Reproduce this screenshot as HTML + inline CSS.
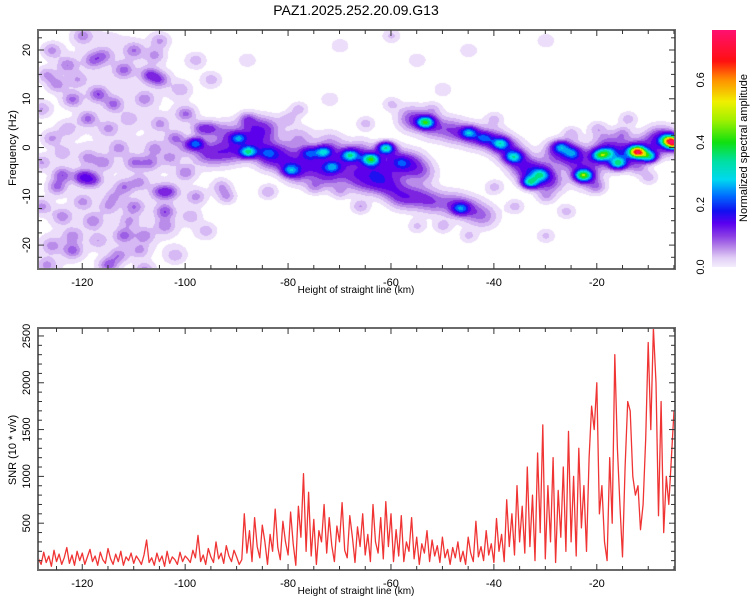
<!DOCTYPE html>
<html><head><meta charset="utf-8">
<style>
html,body{margin:0;padding:0;background:#fff;}
#wrap{position:relative;width:750px;height:600px;overflow:hidden;font-family:"Liberation Sans",sans-serif;}
svg{position:absolute;left:0;top:0;}
canvas{position:absolute;}
</style></head>
<body>
<div id="wrap">
<canvas id="hm" width="637" height="239" style="left:38px;top:30px;"></canvas>
<svg id="svg" width="750" height="600"></svg>
</div>
<script>
// ---------- data ----------
const xMinKm = -128.6, xMaxKm = -4.8;
const hzMin = -24.9, hzMax = 24.1;
const cbMax = 0.76;
const snrMax = 2585;
const xTickLabels = [-120,-100,-80,-60,-40,-20];
const hzTickLabels = [20,10,0,-10,-20];
const snrTickLabels = [500,1000,1500,2000,2500];
const cbTickLabels = [0.0,0.2,0.4,0.6];

// bright spots: km, Hz, amplitude
const spotKm  = [-98.1,-89.7,-87.8,-73.2,-79.6,-68,-64,-71.5,-61.1,-53.4,-45,-38.8,-36.3,-33,-27.1,-22.7,-19.4,-16,-12.2,-10,-6.1,-5,-46.6,-84,-76,-58,-42,-31,-25,-18];
const spotHz  = [0.9,2.0,-0.8,-0.8,-4.6,-1.5,-2.3,-3.9,0,5.3,3.1,0.9,-1.8,-7,0.2,-5.6,-1.5,-3.1,-0.8,-1.7,1.6,1,-12.4,-1,-1,-3,2,-5.5,-1,-1];
const spotAmp = [0.2,0.18,0.28,0.24,0.17,0.25,0.33,0.17,0.3,0.34,0.2,0.22,0.22,0.27,0.18,0.38,0.27,0.27,0.6,0.3,0.33,0.48,0.16,0.1,0.12,0.08,0.14,0.18,0.14,0.18];

// ridge base (purple band): km, Hz, amplitude
const baseKm  = [-96,-93,-92,-90,-87,-86,-84,-82,-80,-78,-76,-74,-72,-70,-68,-66,-64,-62,-60,-58,-56,-54,
 -56,-52,-48,-44,-40,-37,-35,-33,-31,-29,-28,-25,-24,-22,-20,-18,-16,-14,-11,-8,-6,
 -60,-58,-55,-52,-48,-45,-42,-63,-84,-78,-72,-66];
const baseHz  = [-1,-1,3,-0.5,4,1,-2,-1,-3,-5,-2,-4,-6,-2,-5,-1,-4,-6,-2,-4,-3,-5,
 6,4.5,3.5,2.5,1.5,-0.5,-3,-5,-5.5,-7,-1,-1,-3,-6,-2,1,-2,-1,0,2,1,
 -8,-10,-10,-11,-11.5,-12.5,-14,-7,4,2,1,-7];
const baseAmp = [0.08,0.07,0.07,0.08,0.08,0.08,0.08,0.07,0.08,0.08,0.08,0.08,0.07,0.08,0.07,0.08,0.08,0.07,0.08,0.07,0.07,0.06,
 0.09,0.08,0.08,0.08,0.09,0.09,0.08,0.09,0.09,0.07,0.08,0.07,0.07,0.08,0.08,0.07,0.08,0.09,0.07,0.09,0.09,
 0.07,0.08,0.07,0.07,0.07,0.07,0.06,0.06,0.07,0.05,0.05,0.06];

// faint speckles right/middle
const faintKm = [-75,-70,-65,-50,-30,-20,-25,-15,-40,-12,-45,-30,-55,-80,-88,-95,-88,-70,-60,-55,-50,-30,-45,-72,-66,-52,-36,-20,-10,-84,-60,-40,-26,-14,-92,-78];
const faintHz = [-8,-9,5,-16,-10,-8,3,3,-8,-4,-18,-18,-16,6,6,4,18,21,23,18,12,22,20,10,-12,8,-12,4,-6,-9,9,6,-13,6,-10,8];
const faintAmp= [0.05,0.04,0.04,0.04,0.04,0.05,0.04,0.05,0.04,0.05,0.035,0.035,0.035,0.04,0.06,0.06,0.03,0.03,0.035,0.03,0.03,0.03,0.03,0.03,0.05,0.035,0.04,0.04,0.04,0.05,0.035,0.035,0.04,0.04,0.05,0.04];

// noise speckles (left region)
const noiseKm  = [-124,-120,-118,-115,-113,-122,-125,-112,-104,-105,-103,-107,-110,-116,-122,-117,-114,-112,-107,-105,-118,-123,-126,-120,-110,-119,-100,-102,-97,-108,-126,-124,-110,-108,-118,-126,-100,-98,-112,-115,-105,-98,-95,-93,-96,-102,-108,-120,-113,-105,-125,-128,-128,-128,-122,-104,
 -127,-121,-116,-111,-106,-101,-124,-119,-114,-109,-103,-99,-127,-117,-111,-106,-100,-123,-115,-109];
const noiseHz  = [-5.5,-6,-6.5,-24,-22,-21,-8,-18,-13,-9,-9,-3,-3,-3,10,11,9,16,15,14,18,17,20,23,20,6,7,2,4,10,2,-14,-12,-18,-15,-20,-5,-10,-8,4,22,18,14,-8,-17,-22,-25,-11,0,5,13,-3,8,-12,-18,-16,
 15,14,19,6,19,12,-1,-2,-10,-7,-2,-14,-24,-19,-15,0,0,4,-12,-21];
const noiseAmp = [0.08,0.11,0.08,0.08,0.06,0.07,0.07,0.07,0.08,0.07,0.07,0.06,0.06,0.055,0.07,0.08,0.07,0.065,0.08,0.07,0.06,0.06,0.055,0.055,0.06,0.07,0.07,0.07,0.08,0.055,0.05,0.055,0.06,0.055,0.055,0.05,0.06,0.055,0.06,0.05,0.05,0.04,0.04,0.05,0.04,0.04,0.055,0.05,0.05,0.05,0.055,0.05,0.05,0.055,0.05,0.055,
 0.05,0.04,0.05,0.04,0.05,0.04,0.04,0.05,0.04,0.05,0.05,0.04,0.05,0.04,0.04,0.05,0.04,0.04,0.04,0.05];
const washKm = [-120,-120,-120,-110,-110,-110,-102,-102,-102,-126,-115];
const washHz = [15,0,-15,15,0,-15,10,-5,-18,-22,22];
const washAmp = [0.01,0.01,0.01,0.01,0.01,0.01,0.007,0.007,0.007,0.01,0.01];

// SNR series, 0.5 km step starting at -128.5
const snrStartKm = -128.5;
const snrStepKm = 0.5;
const snrValues = [
120,60,190,80,150,40,210,90,170,60,130,240,70,160,50,200,100,180,60,140,
220,90,150,50,190,110,70,230,120,60,170,90,200,50,140,100,180,70,150,110,
60,160,320,80,130,50,180,90,150,40,200,70,140,110,60,190,90,150,120,80,
210,130,370,90,160,60,230,140,80,300,120,180,70,260,150,90,210,140,60,110,
600,180,420,90,560,250,130,480,300,60,380,200,650,240,110,520,300,160,620,280,
50,680,350,1030,200,830,150,540,60,420,300,700,180,560,260,90,470,300,720,210,
130,580,350,80,460,250,600,160,380,90,700,300,180,560,120,730,250,600,90,430,
150,580,90,300,200,560,120,350,60,280,180,420,90,320,150,260,80,350,130,220,
60,240,130,300,90,200,60,350,180,90,520,140,250,100,420,160,280,80,550,200,
380,90,750,250,600,160,900,300,680,180,1100,250,800,100,1250,400,1550,120,900,300,
1200,80,850,350,1100,200,1480,300,1000,150,1300,450,900,200,1200,1750,1500,2000,600,900,
300,100,1200,500,2300,1300,700,140,1100,1800,1700,1000,800,900,430,700,1400,2430,1500,2585,
2000,580,1800,400,1000,700,1200,1700];

// ---------- geometry ----------
const T = {l:38,r:675,t:30,b:269};
const B = {l:38,r:675,t:328,b:570};
const sx = (km,P)=>P.l+(km-xMinKm)/(xMaxKm-xMinKm)*(P.r-P.l);
const syHz = hz=>T.t+(hzMax-hz)/(hzMax-hzMin)*(T.b-T.t);
const sySnr = v=>B.b-(v/snrMax)*(B.b-B.t);
const CB = {l:712,r:736,t:30,b:267};
const syCb = v=>CB.b-(v/cbMax)*(CB.b-CB.t);

// ---------- colormap ----------
const levels = [
 [0.012,[255,255,255]],[0.03,[236,222,250]],[0.05,[214,184,244]],[0.07,[186,140,234]],[0.09,[156,94,228]],
 [0.12,[124,36,224]],[0.16,[92,0,236]],[0.2,[30,16,240]],[0.24,[0,96,255]],[0.28,[0,170,240]],
 [0.33,[0,224,224]],[0.4,[0,224,128]],[0.46,[48,224,0]],[0.52,[192,240,0]],[0.58,[255,224,0]],
 [0.64,[255,128,0]],[0.7,[255,16,16]],[9,[255,16,96]]];
function col(v){for(const [t,c] of levels){if(v<t)return c;}return levels[levels.length-1][1];}

// ---------- heatmap ----------
(function(){
 const cv=document.getElementById('hm');const ctx=cv.getContext('2d');
 const W=cv.width,H=cv.height;const field=new Float32Array(W*H);
 function add(kms,hzs,amps,skm,shz){
  for(let i=0;i<kms.length;i++){
   const cx=sx(kms[i],T)-T.l, cy=syHz(hzs[i])-T.t;
   const sxp=skm*(T.r-T.l)/(xMaxKm-xMinKm), syp=shz*(T.b-T.t)/(hzMax-hzMin);
   const x0=Math.max(0,Math.floor(cx-3*sxp)),x1=Math.min(W-1,Math.ceil(cx+3*sxp));
   const y0=Math.max(0,Math.floor(cy-3*syp)),y1=Math.min(H-1,Math.ceil(cy+3*syp));
   for(let y=y0;y<=y1;y++){const dy=(y-cy)/syp;
    for(let x=x0;x<=x1;x++){const dx=(x-cx)/sxp;
     field[y*W+x]+=amps[i]*Math.exp(-0.5*(dx*dx+dy*dy));}}
  }
 }
 add(washKm,washHz,washAmp,5,5);
 add(noiseKm,noiseHz,noiseAmp,1.3,1.1);
 add(faintKm,faintHz,faintAmp,1.2,1.0);
 add(baseKm,baseHz,baseAmp,1.9,1.7);
 add(spotKm,spotHz,spotAmp,1.1,0.8);
 const img=ctx.createImageData(W,H);
 for(let i=0;i<W*H;i++){const c=col(field[i]);img.data[i*4]=c[0];img.data[i*4+1]=c[1];img.data[i*4+2]=c[2];img.data[i*4+3]=255;}
 ctx.putImageData(img,0,0);
})();

// ---------- svg ----------
const svg=document.getElementById('svg');const NS='http://www.w3.org/2000/svg';
function el(tag,attrs,parent){const e=document.createElementNS(NS,tag);for(const k in attrs)e.setAttribute(k,attrs[k]);(parent||svg).appendChild(e);return e;}
function txt(s,x,y,size,anchor,rot,name){const t=el('text',{x:x,y:y,'font-size':size,'text-anchor':anchor||'middle','font-family':'Liberation Sans, sans-serif',fill:'#000'});
 if(rot)t.setAttribute('transform','rotate(-90 '+x+' '+y+')');t.textContent=s;
 
 
 return t;}

txt('PAZ1.2025.252.20.09.G13',356,15,14,'middle',false,'chart-title');

// colorbar gradient
const defs=el('defs',{});
const lg=el('linearGradient',{id:'cbg',x1:0,y1:1,x2:0,y2:0},defs);
const cbStops=[[0,'#f4eefc'],[0.03,'#e0cdf6'],[0.06,'#bb8ee8'],[0.1,'#8a3ce4'],[0.14,'#5a00f0'],[0.18,'#1010f0'],[0.23,'#0070ff'],[0.28,'#00d8f0'],[0.34,'#00e0a0'],[0.4,'#10e010'],[0.47,'#a0f000'],[0.53,'#f0f000'],[0.6,'#ff9000'],[0.66,'#ff1010'],[0.76,'#ff1070']];
cbStops.forEach(s=>el('stop',{offset:(s[0]/cbMax),'stop-color':s[1]},lg));
const cbr=el('rect',{x:CB.l,y:CB.t,width:CB.r-CB.l,height:CB.b-CB.t,fill:'url(#cbg)'});


cbTickLabels.forEach(v=>{txt(v.toFixed(1),704,syCb(v),11,'middle',true,'colorbar-tick-label');});
txt('Normalized spectral amplitude',747,148,11,'middle',true,'colorbar-title');

function frame(P,name){
 const r=el('rect',{x:P.l,y:P.t,width:P.r-P.l,height:P.b-P.t,fill:'none',stroke:'#6a6a6a','stroke-width':2});
 
 
 for(let km=-125;km<=-5;km+=5){const x=sx(km,P);const L=(km%20===0)?6:4;
  el('line',{x1:x,y1:P.b,x2:x,y2:P.b-L,stroke:'#333','stroke-width':1});
  el('line',{x1:x,y1:P.t,x2:x,y2:P.t+L,stroke:'#333','stroke-width':1});}
 xTickLabels.forEach(v=>txt(String(v),sx(v,P),P.b+17,11,'middle',false,'x-tick-label'));
 txt('Height of straight line (km)',356,P.b+24,10,'middle',false,'x-axis-title');
}

// top plot
frame(T,'spectrogram-frame');
for(let hz=-22.5;hz<=22.5;hz+=2.5){const y=syHz(hz);const L=(hz%10===0)?6:4;
 el('line',{x1:T.l,y1:y,x2:T.l+L,y2:y,stroke:'#333'});el('line',{x1:T.r,y1:y,x2:T.r-L,y2:y,stroke:'#333'});}
hzTickLabels.forEach(v=>txt(String(v),30,syHz(v),11,'middle',true,'y-tick-label'));
txt('Frequency (Hz)',16,148,11,'middle',true,'y-axis-title');

// bottom plot
const pts=snrValues.map((v,i)=>sx(snrStartKm+i*snrStepKm,B).toFixed(1)+','+sySnr(v).toFixed(1)).join(' ');
const pl=el('polyline',{points:pts,fill:'none',stroke:'#f03434','stroke-width':1.3,'stroke-linejoin':'round'});


frame(B,'snr-frame');
for(let v=100;v<snrMax;v+=100){const y=sySnr(v);const L=(v%500===0)?6:4;
 el('line',{x1:B.l,y1:y,x2:B.l+L,y2:y,stroke:'#333'});el('line',{x1:B.r,y1:y,x2:B.r-L,y2:y,stroke:'#333'});}
snrTickLabels.forEach(v=>txt(String(v),30,sySnr(v),11,'middle',true,'y-tick-label'));
txt('SNR (10 * v/v)',16,450,11,'middle',true,'y-axis-title');
</script>
</body></html>
